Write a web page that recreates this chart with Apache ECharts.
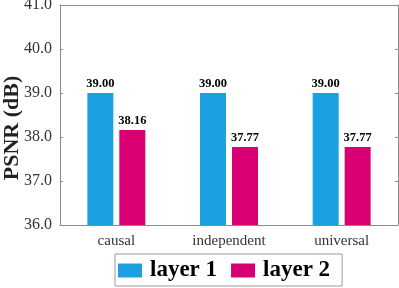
<!DOCTYPE html>
<html><head><meta charset="utf-8">
<script src="https://cdn.jsdelivr.net/npm/echarts@6/dist/echarts.min.js"></script>
<style>html,body{margin:0;padding:0;background:#fff}#c{width:399px;height:288px}</style>
</head><body><div id="c"></div>
<script>
const categories = ['causal', 'independent', 'universal'];
const layer1 = [39.00, 39.00, 39.00];
const layer2 = [38.16, 37.77, 37.77];
const seriesNames = ['layer 1', 'layer 2'];
const yTicks = [36, 37, 38, 39, 40, 41];
const yTitle = 'PSNR (dB)';

const serif = '"Liberation Serif", "DejaVu Serif", serif';
const frame = '#8c8c8c';
const chart = echarts.init(document.getElementById('c'), null, {renderer: 'canvas'});
const labelOpt = {show: true, position: 'top', distance: 3, fontFamily: serif, fontWeight: 'bold', fontSize: 12.5, color: '#000',
  formatter: p => p.value.toFixed(2)};
chart.setOption({
  animation: false,
  grid: {left: 60, right: 1, top: 5, bottom: 63, containLabel: false, outerBoundsMode: 'none'},
  graphic: [{
    type: 'text', x: 12, y: 128, rotation: Math.PI / 2,
    style: {text: yTitle, fontFamily: serif, fontWeight: 'bold', fontSize: 22, fill: '#222',
      align: 'center', verticalAlign: 'middle'}
  }],
  legend: {
    data: seriesNames, left: 115, top: 254,
    borderColor: '#999', borderWidth: 1, padding: [5, 12, 4, 3],
    itemWidth: 24, itemHeight: 14, itemGap: 14,
    textStyle: {fontFamily: serif, fontWeight: 'bold', fontSize: 23, color: '#000', padding: [0, 0, 0, 3]},
    icon: 'rect'
  },
  xAxis: [{
    type: 'category', data: categories,
    axisLine: {lineStyle: {color: frame, width: 1}},
    axisTick: {inside: true, alignWithLabel: true, length: 3, lineStyle: {color: frame}},
    axisLabel: {fontFamily: serif, fontSize: 15, color: '#333', margin: 9}
  }, {
    type: 'category', data: categories, position: 'top',
    axisLine: {lineStyle: {color: frame, width: 1}},
    axisTick: {inside: true, alignWithLabel: true, length: 3, lineStyle: {color: frame}},
    axisLabel: {show: false}
  }],
  yAxis: [{
    type: 'value', min: yTicks[0], max: yTicks[yTicks.length - 1], interval: 1,
    axisLine: {show: true, lineStyle: {color: frame}},
    axisTick: {show: true, inside: true, length: 3, lineStyle: {color: frame}},
    splitLine: {show: false},
    axisLabel: {fontFamily: serif, fontSize: 16, color: '#333', margin: 8, formatter: v => v.toFixed(1)}
  }, {
    type: 'value', min: yTicks[0], max: yTicks[yTicks.length - 1], interval: 1, position: 'right',
    axisLine: {show: true, lineStyle: {color: frame}},
    axisTick: {show: true, inside: true, length: 3, lineStyle: {color: frame}},
    splitLine: {show: false}, axisLabel: {show: false}
  }],
  series: [
    {name: seriesNames[0], type: 'bar', data: layer1, barWidth: 26, barGap: '23%',
     itemStyle: {color: '#1BA1E2'}, label: labelOpt},
    {name: seriesNames[1], type: 'bar', data: layer2, barWidth: 26,
     itemStyle: {color: '#D80073'}, label: labelOpt}
  ]
});
</script></body></html>
